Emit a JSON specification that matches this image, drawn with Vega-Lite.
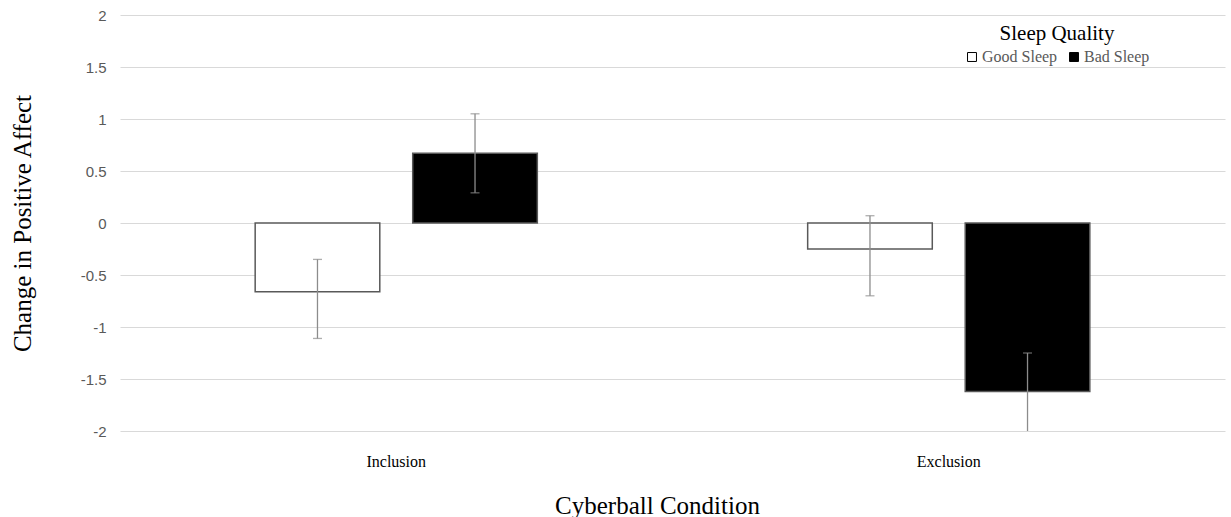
{
  "$schema": "https://vega.github.io/schema/vega-lite/v6.json",
  "autosize": {"type": "none"},
  "width": 1105,
  "height": 416,
  "padding": {"left": 120, "top": 15, "right": 6, "bottom": 86},
  "background": "white",
  "config": {"view": {"stroke": null}},
  "data": {
    "values": [
      {"condition": "Inclusion", "sleep": "Good Sleep", "mean": -0.66, "lo": -1.11, "hi": -0.35},
      {"condition": "Inclusion", "sleep": "Bad Sleep", "mean": 0.67, "lo": 0.29, "hi": 1.05},
      {"condition": "Exclusion", "sleep": "Good Sleep", "mean": -0.25, "lo": -0.7, "hi": 0.07},
      {"condition": "Exclusion", "sleep": "Bad Sleep", "mean": -1.62, "lo": -2.0, "hi": -1.25}
    ]
  },
  "encoding": {
    "x": {
      "field": "condition",
      "type": "nominal",
      "sort": ["Inclusion", "Exclusion"],
      "scale": {"paddingInner": 0, "paddingOuter": 0},
      "axis": {
        "title": "Cyberball Condition",
        "domain": false,
        "ticks": false,
        "labelAngle": 0,
        "labelFont": "Liberation Serif",
        "labelFontSize": 16,
        "labelColor": "#000000",
        "labelPadding": 22,
        "titleFont": "Liberation Serif",
        "titleFontSize": 25,
        "titleFontWeight": "normal",
        "titleColor": "#000000",
        "titleX": 537,
        "titleY": 74,
        "titleBaseline": "middle"
      }
    },
    "xOffset": {
      "field": "sleep",
      "type": "nominal",
      "sort": ["Good Sleep", "Bad Sleep"],
      "scale": {"paddingInner": 0.209, "paddingOuter": 0.858}
    }
  },
  "layer": [
    {
      "mark": {"type": "bar", "stroke": "#595959", "strokeWidth": 1.5},
      "encoding": {
        "y": {
          "field": "mean",
          "type": "quantitative",
          "scale": {"domain": [-2, 2], "nice": false},
          "axis": {
            "title": "Change in Positive Affect",
            "values": [-2, -1.5, -1, -0.5, 0, 0.5, 1, 1.5, 2],
            "labelExpr": "toString(datum.value)",
            "domain": false,
            "ticks": false,
            "gridColor": "#d9d9d9",
            "gridWidth": 1,
            "labelFont": "Liberation Sans",
            "labelFontSize": 15,
            "labelColor": "#595959",
            "labelPadding": 14,
            "titleFont": "Liberation Serif",
            "titleFontSize": 25,
            "titleFontWeight": "normal",
            "titleColor": "#000000",
            "titleAngle": -90,
            "titleX": -98,
            "titleY": 208,
            "titleAlign": "center",
            "titleBaseline": "middle"
          }
        },
        "fill": {
          "field": "sleep",
          "type": "nominal",
          "sort": ["Good Sleep", "Bad Sleep"],
          "scale": {"domain": ["Good Sleep", "Bad Sleep"], "range": ["#ffffff", "#000000"]},
          "legend": {
            "title": "Sleep Quality",
            "orient": "none",
            "legendX": 844,
            "legendY": 8,
            "direction": "horizontal",
            "titleFont": "Liberation Serif",
            "titleFontSize": 21,
            "titleFontWeight": "normal",
            "titleColor": "#000000",
            "titleAnchor": "middle",
            "titlePadding": 5,
            "labelFont": "Liberation Serif",
            "labelFontSize": 16,
            "labelColor": "#595959",
            "labelOffset": 2,
            "symbolType": "square",
            "symbolSize": 80,
            "symbolStrokeColor": "#000000",
            "symbolStrokeWidth": 1,
            "columnPadding": 8
          }
        }
      }
    },
    {
      "mark": {"type": "rule", "color": "#8c8c8c", "strokeWidth": 1.3},
      "encoding": {
        "y": {"field": "lo", "type": "quantitative"},
        "y2": {"field": "hi"}
      }
    },
    {
      "mark": {"type": "tick", "color": "#8c8c8c", "size": 9, "thickness": 1.3},
      "encoding": {
        "y": {"field": "hi", "type": "quantitative"}
      }
    },
    {
      "transform": [{"filter": "datum.lo > -2"}],
      "mark": {"type": "tick", "color": "#8c8c8c", "size": 9, "thickness": 1.3},
      "encoding": {
        "y": {"field": "lo", "type": "quantitative"}
      }
    }
  ]
}
